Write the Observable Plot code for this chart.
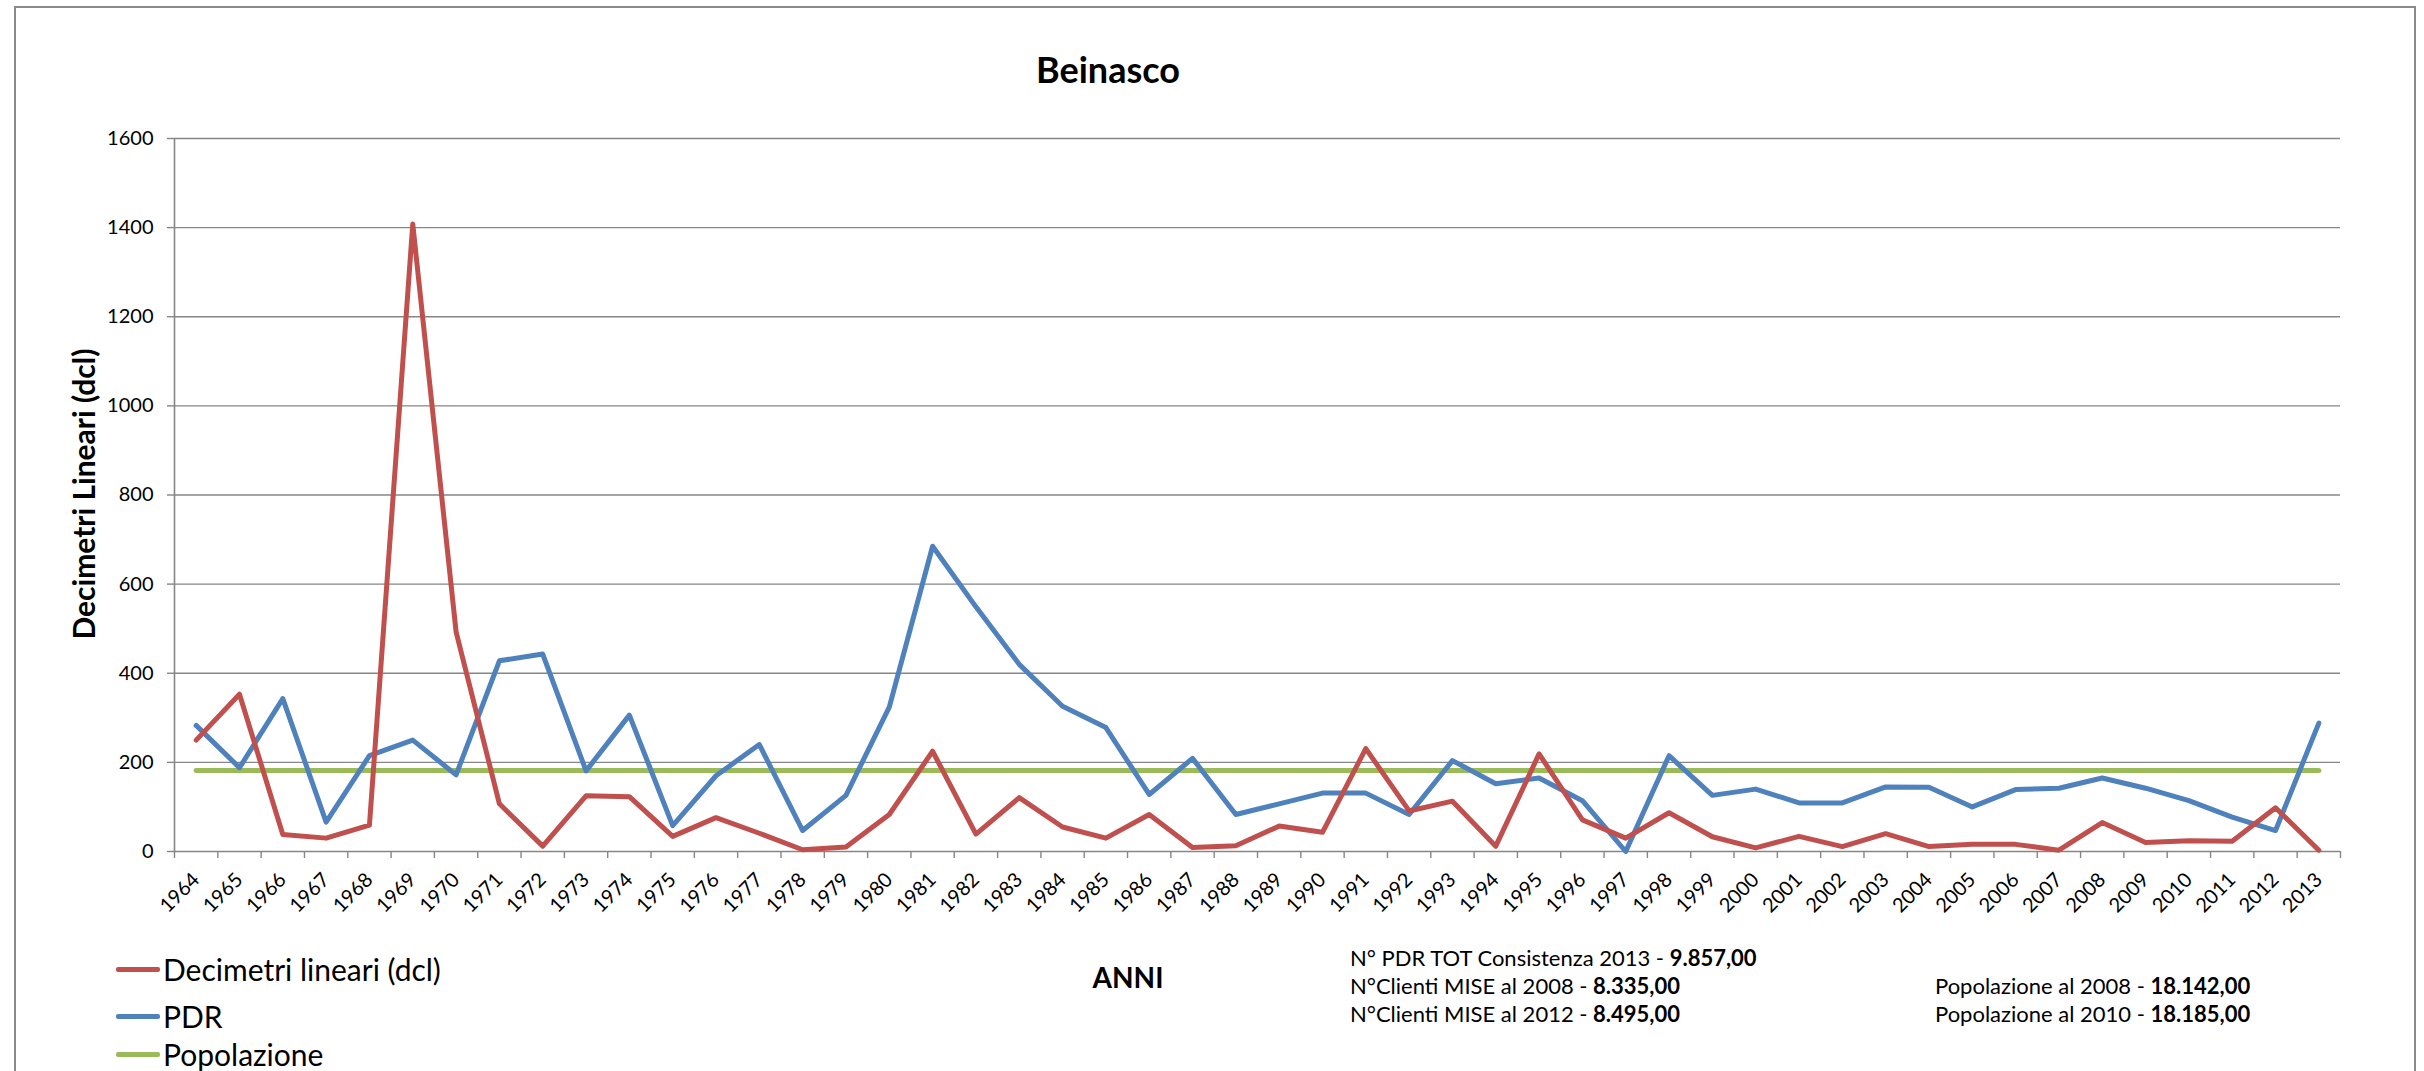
<!DOCTYPE html>
<html>
<head>
<meta charset="utf-8">
<script src="https://cdn.jsdelivr.net/npm/d3@7"></script>
<script src="https://cdn.jsdelivr.net/npm/@observablehq/plot@0.6"></script>
<style>
  html, body { margin: 0; padding: 0; background: #fff; }
  body { font-family: Lato, "Noto Sans", sans-serif; color: #000; }
  #wrap { position: relative; width: 2424px; height: 1071px; overflow: hidden; }
  #border { position: absolute; left: 14px; top: 6px; width: 2402px; height: 1100px; border: 2px solid #8a8a8a; box-sizing: border-box; }
  #chart { position: absolute; left: 0; top: 0; }
  .abs { position: absolute; white-space: nowrap; line-height: 1; }
  .leg { position: absolute; left: 116px; display: flex; align-items: center; font-size: 30px; line-height: 1; height: 30px; }
  .sw { width: 44px; height: 5px; margin-right: 3px; border-radius: 2px; }
</style>
</head>
<body>
<div id="wrap">
  <div id="border"></div>
  <div id="chart"></div>
</div>
<script>
// ---- data ----
const years = [1964,1965,1966,1967,1968,1969,1970,1971,1972,1973,1974,1975,1976,1977,1978,1979,1980,1981,1982,1983,1984,1985,1986,1987,1988,1989,1990,1991,1992,1993,1994,1995,1996,1997,1998,1999,2000,2001,2002,2003,2004,2005,2006,2007,2008,2009,2010,2011,2012,2013];
const decimetri = [250,353,38,30,59,1408,493,107,12,125,123,34,76,41,4,10,83,225,39,121,55,30,83,9,13,57,43,231,91,113,12,219,71,30,87,33,8,34,11,40,11,16,16,3,65,20,24,23,98,3];
const pdr = [283,188,343,66,215,250,172,428,443,181,306,58,170,240,47,126,324,685,549,420,326,278,128,209,83,107,131,131,83,204,152,165,114,0,215,126,140,109,109,145,144,100,139,142,165,142,114,77,47,288];
const popolazione = [181.85,181.85,181.85,181.85,181.85,181.85,181.85,181.85,181.85,181.85,181.85,181.85,181.85,181.85,181.85,181.85,181.85,181.85,181.85,181.85,181.85,181.85,181.85,181.85,181.85,181.85,181.85,181.85,181.85,181.85,181.85,181.85,181.85,181.85,181.85,181.85,181.85,181.85,181.85,181.85,181.85,181.85,181.85,181.85,181.85,181.85,181.85,181.85,181.85,181.85];
const yTicks = [0,200,400,600,800,1000,1200,1400,1600];
const seriesNames = ["Decimetri lineari (dcl)", "PDR", "Popolazione"];
const seriesColors = ["#C0504D", "#4F81BD", "#9BBB59"];
const title = "Beinasco";
const yTitle = "Decimetri Lineari (dcl)";
const xTitle = "ANNI";
const notesLeft = [
  ["N° PDR TOT Consistenza 2013 - ", "9.857,00"],
  ["N°Clienti MISE al 2008 - ", "8.335,00"],
  ["N°Clienti MISE al 2012 - ", "8.495,00"]
];
const notesRight = [
  ["Popolazione al 2008 - ", "18.142,00"],
  ["Popolazione al 2010 - ", "18.185,00"]
];

// ---- build ----
const boundaries = years.map(y => y - 0.5).concat([years[years.length - 1] + 0.5]);
const xDomain = [boundaries[0], boundaries[boundaries.length - 1]];
const rows = (vals) => years.map((y, i) => ({year: y, v: vals[i]}));
const gray = "#868686";

const plot = Plot.plot({
  width: 2424,
  height: 960,
  marginLeft: 174,
  marginRight: 84,
  marginTop: 138,
  marginBottom: 109,
  style: {fontFamily: "Lato, 'Noto Sans', sans-serif", color: "#000", background: "transparent"},
  x: {type: "linear", domain: xDomain},
  y: {domain: [yTicks[0], yTicks[yTicks.length - 1]]},
  marks: [
    Plot.gridY(yTicks, {stroke: gray, strokeOpacity: 1, strokeWidth: 1.4}),
    Plot.ruleX([xDomain[0]], {stroke: gray, strokeWidth: 1.6}),
    Plot.axisY(yTicks, {tickSize: 7, tickPadding: 14, fontSize: 20, stroke: gray, strokeWidth: 1.4, label: null, tickFormat: d => String(d)}),
    Plot.axisX(boundaries, {tickSize: 7, stroke: gray, strokeWidth: 1.4, tickFormat: () => "", label: null}),
    Plot.axisX(years, {tickSize: 0, tickPadding: 25, tickRotate: -45, fontSize: 20, label: null, tickFormat: d => String(d)}),
    Plot.line(rows(popolazione), {x: "year", y: "v", stroke: seriesColors[2], strokeWidth: 5, strokeLinejoin: "round", strokeLinecap: "round"}),
    Plot.line(rows(pdr), {x: "year", y: "v", stroke: seriesColors[1], strokeWidth: 5, strokeLinejoin: "round", strokeLinecap: "round"}),
    Plot.line(rows(decimetri), {x: "year", y: "v", stroke: seriesColors[0], strokeWidth: 5, strokeLinejoin: "round", strokeLinecap: "round"})
  ]
});
document.getElementById("chart").appendChild(plot);

const wrap = document.getElementById("wrap");
function addText(html, left, baseline, fs, extra) {
  const d = document.createElement("div");
  d.className = "abs";
  d.style.fontSize = fs + "px";
  d.style.left = left + "px";
  d.style.top = (baseline - 0.887 * fs) + "px";
  Object.assign(d.style, extra || {});
  d.innerHTML = html;
  wrap.appendChild(d);
  return d;
}
// title
addText(title, 808, 83, 36, {width: "600px", textAlign: "center", fontWeight: "bold"});
// x title
addText(xTitle, 1028, 988, 28, {width: "200px", textAlign: "center", fontWeight: "bold"});
// y title (rotated)
const yt = document.createElement("div");
yt.className = "abs";
yt.textContent = yTitle;
Object.assign(yt.style, {fontSize: "30px", fontWeight: "bold", width: "600px", height: "30px", textAlign: "center", left: (83 - 300) + "px", top: (494 - 15) + "px", transform: "rotate(-90deg)", transformOrigin: "50% 50%"});
wrap.appendChild(yt);
// notes
const noteBase = [967, 995, 1023];
notesLeft.forEach((n, i) => addText(n[0] + "<b>" + n[1] + "</b>", 1350, noteBase[i], 22));
notesRight.forEach((n, i) => addText(n[0] + "<b>" + n[1] + "</b>", 1935, noteBase[i + 1], 22));
// legend
const legCenters = [969, 1016, 1054];
seriesNames.forEach((name, i) => {
  const d = document.createElement("div");
  d.className = "leg";
  d.style.top = (legCenters[i] - 15) + "px";
  d.innerHTML = `<span class="sw" style="background:${seriesColors[i]}"></span><span>${name}</span>`;
  wrap.appendChild(d);
});
</script>
</body>
</html>
